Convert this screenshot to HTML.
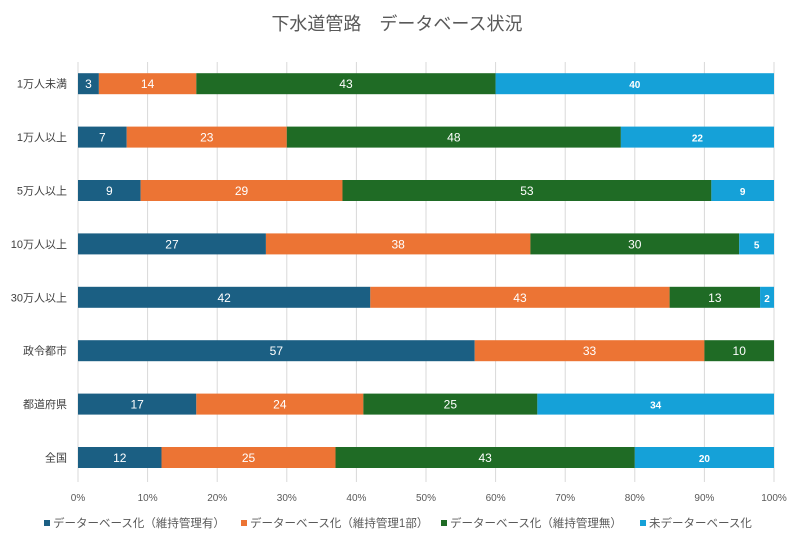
<!DOCTYPE html>
<html><head><meta charset="utf-8"><style>
html,body{margin:0;padding:0;background:#fff;width:794px;height:544px;overflow:hidden}
svg{font-family:"Liberation Sans","Noto Sans CJK JP",sans-serif}
</style></head><body>
<svg id="chart" width="794" height="544" xmlns="http://www.w3.org/2000/svg">
<text x="397" y="30" text-anchor="middle" font-size="18" fill="#595959">下水道管路　データベース状況</text>
<g id="grid"></g><g id="bars"></g><g id="axis"></g><g id="legend"></g>
</svg>
<script>
const categories=["1万人未満","1万人以上","5万人以上","10万人以上","30万人以上","政令都市","都道府県","全国"];
const s1=[3,7,9,27,42,57,17,12];
const s2=[14,23,29,38,43,33,24,25];
const s3=[43,48,53,30,13,10,25,43];
const s4=[40,22,9,5,2,0,34,20];
const seriesNames=["データーベース化（維持管理有）","データーベース化（維持管理1部）","データーベース化（維持管理無）","未データーベース化"];
const ticks=[0,10,20,30,40,50,60,70,80,90,100];
const series=[s1,s2,s3,s4];
const colors=["#1b5f83","#ec7434","#1f6b25","#15a1d8"];
const NS="http://www.w3.org/2000/svg";
const x0=78,x1=774,yTop=57,step=53.4,bh=21;
const xs=v=>x0+(x1-x0)*v/100;
const yc=i=>yTop+step*(i+0.5);
function mk(tag,attrs,parent){const e=document.createElementNS(NS,tag);for(const k in attrs)e.setAttribute(k,attrs[k]);parent.appendChild(e);return e;}
const grid=document.getElementById('grid'),bars=document.getElementById('bars'),axis=document.getElementById('axis'),legend=document.getElementById('legend');
ticks.forEach(t=>{
 const l=mk('line',{x1:xs(t),x2:xs(t),y1:62,y2:482,stroke:'#d9d9d9','stroke-width':1},grid);
 
 
 const tx=mk('text',{x:xs(t),y:501,'text-anchor':'middle','font-size':10,fill:'#595959'},axis);
 tx.textContent=t+'%';
 
 
});
categories.forEach((c,i)=>{
 const lab=mk('text',{x:67,y:yc(i)+4,'text-anchor':'end','font-size':11,fill:'#404040'},axis);
 lab.textContent=c;
 
 
 let acc=0;
 series.forEach((s,k)=>{
  const v=s[i]; if(!v)return;
  const r=mk('rect',{x:xs(acc),y:yc(i)-bh/2,width:xs(acc+v)-xs(acc),height:bh,fill:colors[k]},bars);
  
  
  const t=mk('text',{x:(xs(acc)+xs(acc+v))/2,y:yc(i)+4.5,'text-anchor':'middle','font-size':k==3?10:12,'font-weight':k==3?'bold':'normal',fill:'#fff'},bars);
  t.textContent=v;
  
  
  acc+=v;
 });
});
const lx=[44,241,441,640];
seriesNames.forEach((n,k)=>{
 const g=mk('g',{},legend);
 
 
 mk('rect',{x:lx[k],y:520,width:6,height:6,fill:colors[k]},g);
 const t=mk('text',{x:lx[k]+9,y:527,'font-size':11.5,fill:'#595959'},g);
 t.textContent=n;
});
</script>
</body></html>
